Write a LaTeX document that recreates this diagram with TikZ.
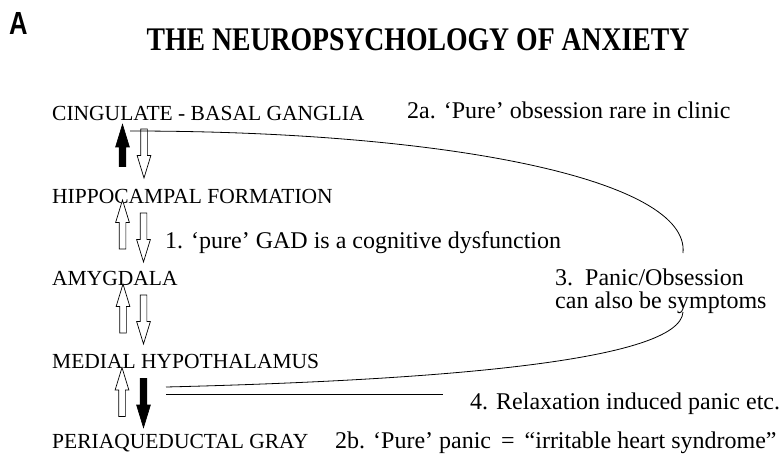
\documentclass[tikz,border=0pt]{standalone}
\usepackage{fontspec}
\setmainfont{Liberation Serif}
\newfontfamily\panelfont{Liberation Sans}
\usetikzlibrary{shapes.arrows}

\begin{document}
\begin{tikzpicture}[x=1pt, y=-1pt,
  area/.style={anchor=base west, inner sep=0pt, font=\rmfamily\fontsize{21.5}{24}\selectfont},
  note/.style={anchor=base west, inner sep=0pt, align=left, font=\rmfamily\fontsize{24}{23}\selectfont},
  flow/.style={single arrow, draw=black, line width=0.7pt, fill=white, inner sep=0pt,
    inner ysep=3pt, single arrow head extend=3.5pt, single arrow tip angle=34,
    minimum height=49pt},
  filled/.style={fill=black},
  pointup/.style={rotate=90},
  pointdown/.style={rotate=-90},
  link/.style={line width=0.8pt}]
\useasboundingbox (0,0) rectangle (782,460);
% headings
\node[anchor=base west, inner sep=0pt, xscale=0.8,
  font=\panelfont\fontsize{32}{32}\selectfont\bfseries] (panel) at (9,35) {A};
\node[anchor=base, inner sep=0pt, xscale=0.84,
  font=\rmfamily\fontsize{33}{33}\selectfont\bfseries] (title) at (418,51) {THE NEUROPSYCHOLOGY OF ANXIETY};
% brain levels
\node[area] (cg) at (52,120) {CINGULATE - BASAL GANGLIA};
\node[area] (hf) at (52,203) {HIPPOCAMPAL FORMATION};
\node[area] (am) at (52,285) {AMYGDALA};
\node[area] (mh) at (52,368) {MEDIAL HYPOTHALAMUS};
\node[area] (pag) at (52,448) {PERIAQUEDUCTAL GRAY};
% up and down arrows
\node[flow, pointup, filled, minimum height=42pt] (cgup) at (122.5,151) {};
\node[flow, pointdown] (cgdown) at (144,148) {};
\node[flow, pointup] (hfup) at (122.5,230) {};
\node[flow, pointdown] (hfdown) at (143.5,232) {};
\node[flow, pointup] (amup) at (123,314) {};
\node[flow, pointdown] (amdown) at (143.5,314) {};
\node[flow, pointup] (mhup) at (122,397.5) {};
\node[flow, pointdown, filled] (mhdown) at (143.5,397.5) {};
% notes
\node[note] (n2a) at (407,118) {2a. ‘Pure’ obsession rare in clinic};
\node[note] (n1) at (165,248) {1. ‘pure’ GAD is a cognitive dysfunction};
\node[note] (n3) at (555,308) {3.\ \ Panic/Obsession\\can also be symptoms};
\node[note] (n4) at (470,409) {4. Relaxation induced panic etc.};
\node[note] (n2b) at (335,448) {2b. ‘Pure’ panic \,=\, “irritable heart syndrome”};
% loop lines
\coordinate (loopstart) at (130,131);
\coordinate (loopturn) at (683,253);
\coordinate (loopback) at (683,312);
\coordinate (loopend) at (166,387);
\coordinate (relaxstart) at (166,394);
\coordinate (relaxend) at (443,394);
\draw[link] (loopstart) .. controls (450,131) and (690,180) .. (loopturn);
\draw[link] (loopback) .. controls (680,360) and (450,380) .. (loopend);
\draw[link] (relaxstart) -- (relaxend);
\end{tikzpicture}
\end{document}
